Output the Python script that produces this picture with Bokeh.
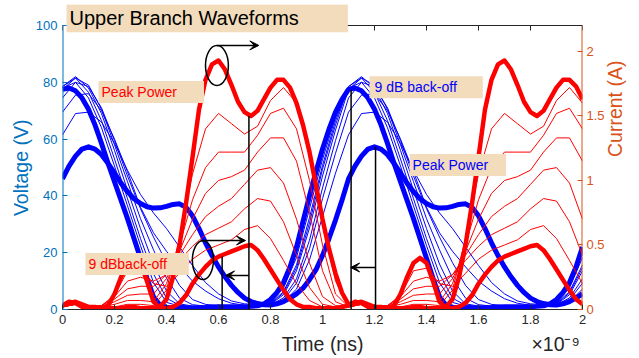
import math
from bokeh.plotting import figure
from bokeh.models import (Range1d, LinearAxis, Label, Arrow, VeeHead, FixedTicker,
                          NumeralTickFormatter)
from bokeh.embed import file_html
from bokeh.resources import INLINE

FONT = "Liberation Sans"
BOX = "#F2DCBC"
BLUE = "#0000FF"
RED = "#FF0000"
LEFT_C = "#0072BD"
RIGHT_C = "#D95319"
AX_C = "#262626"
NB = "\u00a0"

# ---------------- data (time in ns) ----------------
t_thick = [round(i * 0.025, 3) for i in range(81)]
t_thin = [round(i * 0.05, 2) for i in range(41)]

# thick blue: 9 dB back-off voltage
v_backoff = [77.5, 78, 77, 74.5, 70.5, 65, 58.5, 51.5, 45, 38.5,
             32, 25, 18, 11, 4.5, 1.5, 0.8, 0.6, 0.5, 0.5,
             0.5, 0.6, 0.7, 0.9, 1.0, 1.0, 1.0, 1.0, 1.0, 1.1,
             1.3, 2, 3.5, 6, 9.5, 15, 22, 31, 40, 48.5,
             56.5, 63.5, 69.5, 74, 77.5, 78, 77, 74.5, 70.5, 65,
             58.5, 51.5, 45, 38.5, 32, 25, 18, 11, 4.5, 1.5,
             0.8, 0.6, 0.5, 0.5, 0.5, 0.6, 0.7, 0.9, 1.0, 1.0,
             1.0, 1.0, 1.0, 1.1, 1.3, 2, 3.5, 6, 9.5, 15,
             22]
# thick blue: peak power voltage
v_peak = [46, 50.5, 54, 56.5, 57.3, 56.5, 54.5, 51.5, 48, 44.5,
          41.5, 39, 37.3, 36.2, 35.7, 35.8, 36.3, 37, 37.2, 36,
          33, 28.5, 23.5, 19, 15, 11.5, 8.5, 6, 4, 2.8,
          2.1, 1.7, 1.6, 2, 2.8, 4, 5.5, 7.5, 10.5, 14,
          19, 25, 31.5, 38.5, 46, 50.5, 54, 56.5, 57.3, 56.5,
          54.5, 51.5, 48, 44.5, 41.5, 39, 37.3, 36.2, 35.7, 35.8,
          36.3, 37, 37.2, 36, 33, 28.5, 23.5, 19, 15, 11.5,
          8.5, 6, 4, 2.8, 2.1, 1.7, 1.6, 2, 2.8, 4,
          5.5]
# thick red: peak power current
i_peak = [0.03, 0.05, 0.06, 0.04, 0.02, 0.02, 0.01, 0.01, 0.01, 0.01,
          0.02, 0.02, 0.01, 0.01, 0.01, 0.02, 0.08, 0.25, 0.5, 0.82,
          1.18, 1.55, 1.78, 1.9, 1.93, 1.86, 1.74, 1.61, 1.53, 1.5,
          1.54, 1.63, 1.72, 1.78, 1.78, 1.72, 1.6, 1.43, 1.22, 0.96,
          0.7, 0.47, 0.28, 0.13, 0.04, 0.05, 0.06, 0.04, 0.02, 0.02,
          0.01, 0.01, 0.01, 0.01, 0.02, 0.02, 0.01, 0.01, 0.01, 0.02,
          0.08, 0.25, 0.5, 0.82, 1.18, 1.55, 1.78, 1.9, 1.93, 1.86,
          1.74, 1.61, 1.53, 1.5, 1.54, 1.63, 1.72, 1.78, 1.78, 1.73,
          1.63]
# thick red: 9 dB back-off current
i_backoff = [0.03, 0.06, 0.05, 0.02, 0.01, 0.01, 0.01, 0.03, 0.12, 0.25,
             0.36, 0.4, 0.36, 0.22, 0.06, 0.01, 0.01, 0.02, 0.05, 0.11,
             0.2, 0.27, 0.33, 0.38, 0.41, 0.43, 0.45, 0.47, 0.49, 0.5,
             0.46, 0.39, 0.31, 0.23, 0.15, 0.08, 0.04, 0.02, 0.02, 0.01,
             0.01, 0.01, 0.01, 0.02, 0.03, 0.06, 0.05, 0.02, 0.01, 0.01,
             0.01, 0.03, 0.12, 0.25, 0.36, 0.4, 0.36, 0.22, 0.06, 0.01,
             0.01, 0.02, 0.05, 0.11, 0.2, 0.27, 0.33, 0.38, 0.41, 0.43,
             0.45, 0.47, 0.49, 0.5, 0.46, 0.39, 0.31, 0.23, 0.15, 0.08,
             0.04]

# thin blue: intermediate power levels (voltage)
v_mid_1 = [78, 80, 74.5, 64, 50.5, 36.5, 22.5, 9.5, 2.5, 1.2, 1, 1, 1, 1, 1, 1.2, 2.5, 7.6, 18.3, 35.5, 52.8,
           67.6, 78, 80, 74.5, 64, 50.5, 36.5, 22.5, 9.5, 2.5, 1.2, 1, 1, 1, 1, 1, 1.2, 2.5, 7.6, 18.3]
v_mid_2 = [78.5, 81.5, 76.5, 66.5, 53, 39, 25, 12.5, 4, 1.5, 1.1, 1, 1, 1, 1, 1.2, 2.2, 6.3, 15.7, 32.4, 50.7,
           66.4, 78.5, 81.5, 76.5, 66.5, 53, 39, 25, 12.5, 4, 1.5, 1.1, 1, 1, 1, 1, 1.2, 2.2, 6.3, 15.7]
v_mid_3 = [78.5, 82, 78, 69, 56, 42, 28.5, 16, 6.5, 2, 1.2, 1.1, 1, 1, 1, 1.2, 2, 5.8, 14.7, 30.5, 49.4,
           65, 78.5, 82, 78, 69, 56, 42, 28.5, 16, 6.5, 2, 1.2, 1.1, 1, 1, 1, 1.2, 2, 5.8, 14.7]
v_mid_4 = [77.5, 81.5, 79, 70.5, 58, 45, 32, 21, 11, 4, 1.7, 1.2, 1.1, 1, 1, 1.2, 1.8, 5.2, 13.6, 28.7, 47,
           63.2, 77.5, 81.5, 79, 70.5, 58, 45, 32, 21, 11, 4, 1.7, 1.2, 1.1, 1, 1, 1.2, 1.8, 5.2, 13.6]
v_mid_5 = [74.5, 80, 78.5, 71, 59.5, 47, 35.5, 25.5, 16.5, 8.5, 3.5, 1.8, 1.3, 1.1, 1, 1.1, 1.6, 4.1, 10.8, 24.4, 42.8,
           59.5, 74.5, 80, 78.5, 71, 59.5, 47, 35.5, 25.5, 16.5, 8.5, 3.5, 1.8, 1.3, 1.1, 1, 1.1, 1.6, 4.1, 10.8]
v_mid_6 = [69.5, 75.5, 76, 70, 60, 48.5, 36, 27, 20.5, 15, 10, 6.5, 3.8, 2.2, 1.5, 1.2, 1.5, 3.4, 9.3, 21.4, 39,
           55, 69.5, 75.5, 76, 70, 60, 48.5, 36, 27, 20.5, 15, 10, 6.5, 3.8, 2.2, 1.5, 1.2, 1.5, 3.4, 9.3]
v_mid_7 = [61.5, 69, 69.5, 66, 58.5, 49, 40.5, 34, 28.5, 22, 15.5, 9.5, 5.5, 3, 2, 1.7, 1.6, 2.7, 7.2, 17.5, 32.7,
           48, 61.5, 69, 69.5, 66, 58.5, 49, 40.5, 34, 28.5, 22, 15.5, 9.5, 5.5, 3, 2, 1.7, 1.6, 2.7, 7.2]

# thin red: intermediate power levels (current)
i_mid_1 = [0.02, 0.04, 0.02, 0.01, 0.02, 0.04, 0.04, 0.03, 0.15, 0.55, 1.05, 1.4, 1.52, 1.44, 1.36, 1.42, 1.62, 1.72,
           1.6, 1.2, 0.66, 0.22, 0.02, 0.04, 0.02, 0.01, 0.02, 0.04, 0.04, 0.03, 0.15, 0.55, 1.05, 1.4, 1.52, 1.44,
           1.36, 1.42, 1.62, 1.72, 1.6]
i_mid_2 = [0.02, 0.04, 0.02, 0.02, 0.04, 0.07, 0.07, 0.06, 0.2, 0.5, 0.85, 1.1, 1.22, 1.22, 1.22, 1.35, 1.52, 1.56,
           1.4, 1.0, 0.5, 0.12, 0.02, 0.04, 0.02, 0.02, 0.04, 0.07, 0.07, 0.06, 0.2, 0.5, 0.85, 1.1, 1.22, 1.22,
           1.22, 1.35, 1.52, 1.56, 1.4]
i_mid_3 = [0.02, 0.04, 0.02, 0.02, 0.06, 0.11, 0.12, 0.12, 0.24, 0.45, 0.7, 0.9, 1.0, 1.03, 1.08, 1.22, 1.33, 1.33,
           1.15, 0.75, 0.3, 0.06, 0.02, 0.04, 0.02, 0.02, 0.06, 0.11, 0.12, 0.12, 0.24, 0.45, 0.7, 0.9, 1.0, 1.03,
           1.08, 1.22, 1.33, 1.33, 1.15]
i_mid_4 = [0.02, 0.04, 0.02, 0.03, 0.08, 0.16, 0.18, 0.18, 0.27, 0.42, 0.58, 0.72, 0.8, 0.86, 0.97, 1.08, 1.1, 0.98,
           0.7, 0.36, 0.1, 0.03, 0.02, 0.04, 0.02, 0.03, 0.08, 0.16, 0.18, 0.18, 0.27, 0.42, 0.58, 0.72, 0.8, 0.86,
           0.97, 1.08, 1.1, 0.98, 0.7]
i_mid_5 = [0.02, 0.05, 0.02, 0.03, 0.1, 0.22, 0.25, 0.22, 0.27, 0.38, 0.49, 0.58, 0.63, 0.68, 0.78, 0.86, 0.84, 0.68,
           0.42, 0.17, 0.04, 0.02, 0.02, 0.05, 0.02, 0.03, 0.1, 0.22, 0.25, 0.22, 0.27, 0.38, 0.49, 0.58, 0.63, 0.68,
           0.78, 0.86, 0.84, 0.68, 0.42]
i_mid_6 = [0.03, 0.05, 0.02, 0.03, 0.11, 0.3, 0.32, 0.2, 0.18, 0.28, 0.39, 0.46, 0.5, 0.54, 0.62, 0.65, 0.55, 0.38,
           0.2, 0.07, 0.02, 0.02, 0.03, 0.05, 0.02, 0.03, 0.11, 0.3, 0.32, 0.2, 0.18, 0.28, 0.39, 0.46, 0.5, 0.54,
           0.62, 0.65, 0.55, 0.38, 0.2]

v_mid = [v_mid_1, v_mid_2, v_mid_3, v_mid_4, v_mid_5, v_mid_6, v_mid_7]
i_mid = [i_mid_1, i_mid_2, i_mid_3, i_mid_4, i_mid_5, i_mid_6]

time_ticks = [0, 0.2, 0.4, 0.6, 0.8, 1, 1.2, 1.4, 1.6, 1.8, 2]
volt_ticks = [0, 20, 40, 60, 80, 100]
curr_ticks = [0, 0.5, 1, 1.5, 2]
V_TOP, I_TOP = 100, 2.2          # axis limits of the original chart
V_VIEW, I_VIEW = 107.4, 2.364    # view extended upward so the title box stays inside

# ---------------- figure ----------------
p = figure(width=639, height=358, output_backend="svg", toolbar_location=None,
           x_range=Range1d(0, 2), y_range=Range1d(0, V_VIEW),
           min_border_left=62, min_border_right=57, min_border_top=4, min_border_bottom=49,
           background_fill_color="white", border_fill_color="white")
p.outline_line_color = None
p.xgrid.visible = False
p.ygrid.visible = False
p.extra_y_ranges = {"cur": Range1d(0, I_VIEW)}

for v in v_mid:
    p.line(t_thin, v, line_color=BLUE, line_width=1, line_join="round")
p.line(t_thick, v_backoff, line_color=BLUE, line_width=5, line_join="round")
p.line(t_thick, v_peak, line_color=BLUE, line_width=5, line_join="round")
for c in i_mid:
    p.line(t_thin, c, y_range_name="cur", line_color=RED, line_width=1, line_join="round")
p.line(t_thick, i_peak, y_range_name="cur", line_color=RED, line_width=4.5, line_join="round")
p.line(t_thick, i_backoff, y_range_name="cur", line_color=RED, line_width=4.5, line_join="round")

# ---------------- axes ----------------
def style_axis(ax, color, ticks):
    ax.ticker = FixedTicker(ticks=ticks)
    ax.formatter = NumeralTickFormatter(format="0.[0]")
    ax.axis_line_color = color
    ax.major_tick_line_color = color
    ax.minor_tick_line_color = None
    ax.major_tick_in = 5
    ax.major_tick_out = 0
    ax.major_label_text_color = color
    ax.major_label_text_font = FONT
    ax.major_label_text_font_size = "13px"
    ax.axis_label_text_color = color
    ax.axis_label_text_font = FONT
    ax.axis_label_text_font_size = "19.5px"
    ax.axis_label_text_font_style = "normal"

xa = p.xaxis[0]
style_axis(xa, AX_C, time_ticks)
xa.axis_label = NB * 40 + "Time (ns)" + NB * 31 + "×10⁻⁹"
xa.major_label_standoff = 5
xa.axis_label_standoff = 6

ya = p.yaxis[0]
style_axis(ya, LEFT_C, volt_ticks)
ya.axis_label = "Voltage (V)" + NB * 4
ya.axis_line_color = None
ya.major_label_standoff = 5
ya.axis_label_standoff = 1

ra = LinearAxis(y_range_name="cur")
style_axis(ra, RIGHT_C, curr_ticks)
ra.axis_label = "Current (A)" + NB * 10
ra.axis_line_color = None
ra.major_label_standoff = 4
ra.axis_label_standoff = 7
try:
    ra.axis_label_orientation = math.pi / 2
except Exception:
    pass
p.add_layout(ra, "right")

# frame lines of the original box (left, right, top) with inward top ticks
p.segment(x0=[0], y0=[0], x1=[0], y1=[V_TOP], line_color=LEFT_C, line_width=2)
p.segment(x0=[2], y0=[0], x1=[2], y1=[V_TOP], line_color=RIGHT_C, line_width=2)
p.segment(x0=[0], y0=[V_TOP], x1=[2], y1=[V_TOP], line_color=AX_C, line_width=1)
p.segment(x0=time_ticks, y0=[V_TOP] * len(time_ticks), x1=time_ticks,
          y1=[V_TOP - 1.76] * len(time_ticks), line_color=AX_C, line_width=1)

# ---------------- annotations ----------------
p.segment(x0=[0.717, 0.614], y0=[0, 0], x1=[0.717, 0.614], y1=[1.5, 0.41],
          y_range_name="cur", line_color="black", line_width=1.5)
p.segment(x0=[1.11, 1.204], y0=[0, 0], x1=[1.11, 1.204], y1=[77.3, 57.3],
          line_color="black", line_width=1.5)
p.ellipse(x=[0.594, 0.54], y=[85.9, 17.4], width=[0.088, 0.081], height=[14.1, 13.7],
          fill_color=None, line_color="black", line_width=1.5)

def arrow(x0, y0, x1, y1):
    p.add_layout(Arrow(end=VeeHead(size=9, fill_color="black", line_color="black"),
                       x_start=x0, y_start=y0, x_end=x1, y_end=y1,
                       line_color="black", line_width=1.5))

arrow(0.595, 93, 0.755, 93)
arrow(0.531, 24.3, 0.704, 24.3)
arrow(0.717, 12, 0.627, 12)
arrow(1.204, 14.8, 1.108, 14.8)

def box_label(x, y, text, color, size, pad):
    p.add_layout(Label(x=x, y=y, text=text, text_color=color, text_font=FONT,
                       text_font_size=size, text_baseline="middle", text_align="left",
                       background_fill_color=BOX, background_fill_alpha=1.0, padding=pad))

box_label(0.0154, 102.6, "Upper Branch Waveforms", "black", "20px",
          dict(left=3, right=49, top=3, bottom=3))
box_label(0.1385, 76.6, "Peak Power", RED, "14px", dict(left=3, right=27, top=3, bottom=3))
box_label(1.181, 78.3, "9 dB back-off", BLUE, "14px", dict(left=5, right=26, top=3, bottom=3))
box_label(1.335, 50.9, "Peak Power", BLUE, "14px", dict(left=3, right=18, top=3, bottom=3))
box_label(0.0885, 16.0, "9 dBback-off", RED, "14px", dict(left=3, right=22, top=3, bottom=3))

open("out.html", "w").write(file_html(p, INLINE))
